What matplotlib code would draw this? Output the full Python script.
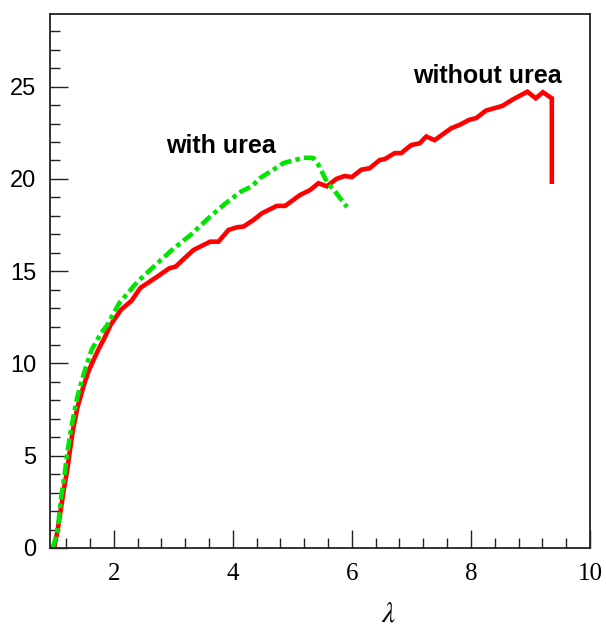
import numpy as np
import matplotlib.pyplot as plt
from matplotlib.ticker import MultipleLocator

# without urea (red, solid)
lam_wo = [1.0, 1.06, 1.11, 1.17, 1.22, 1.25, 1.31, 1.39, 1.5, 1.58, 1.67, 1.75, 1.84,
          1.95, 2.12, 2.3, 2.45, 2.73, 2.93, 3.04, 3.34, 3.62, 3.76, 3.93, 4.07, 4.18,
          4.35, 4.49, 4.74, 4.88, 5.13, 5.30, 5.44, 5.58, 5.74, 5.88, 6.0, 6.16, 6.3,
          6.47, 6.55, 6.72, 6.83, 7.0, 7.14, 7.25, 7.39, 7.67, 7.81, 7.97, 8.09, 8.25,
          8.53, 8.70, 8.95, 9.09, 9.21, 9.36, 9.36]
sig_wo = [0.0, 1.0, 2.06, 3.32, 4.23, 4.95, 6.3, 7.6, 8.85, 9.6, 10.25, 10.8, 11.35,
          12.1, 12.9, 13.4, 14.1, 14.7, 15.15, 15.25, 16.15, 16.6, 16.6, 17.24, 17.38,
          17.42, 17.78, 18.14, 18.54, 18.54, 19.13, 19.4, 19.77, 19.6, 20.0, 20.16, 20.1,
          20.5, 20.58, 21.03, 21.07, 21.4, 21.4, 21.84, 21.93, 22.3, 22.1, 22.75, 22.93,
          23.2, 23.3, 23.7, 23.96, 24.3, 24.73, 24.37, 24.7, 24.37, 19.85]

# with urea (green, dash-dot)
lam_w = [0.97, 1.0, 1.06, 1.11, 1.17, 1.22, 1.28, 1.39, 1.5, 1.63, 1.78, 1.89, 2.09,
         2.4, 2.79, 3.01, 3.29, 3.62, 3.85, 4.13, 4.32, 4.46, 4.68, 4.85, 5.05, 5.19,
         5.35, 5.44, 5.58, 5.74, 5.92]
sig_w = [0.0, 0.25, 0.98, 2.6, 3.86, 5.13, 6.4, 8.2, 9.47, 10.75, 11.6, 12.08, 13.26,
         14.43, 15.6, 16.24, 16.96, 17.96, 18.6, 19.3, 19.6, 20.05, 20.5, 20.86, 21.03,
         21.15, 21.14, 20.76, 19.85, 19.23, 18.47]

fig = plt.figure(figsize=(6.06, 6.27), dpi=100)
ax = fig.add_axes([0.0825, 0.126, 0.891, 0.852])

ax.plot(lam_wo, sig_wo, color='#ff0000', lw=3.3, solid_joinstyle='miter')
ax.plot(lam_w, sig_w, color='#00e600', lw=3.3, linestyle=(0, (2.6, 0.9, 1.0, 0.9)),
        dash_capstyle='butt')

ax.set_xlim(0.93, 10)
ax.set_ylim(0, 28.95)

ax.xaxis.set_major_locator(MultipleLocator(2))
ax.xaxis.set_minor_locator(MultipleLocator(0.4))
ax.yaxis.set_major_locator(MultipleLocator(5))
ax.yaxis.set_minor_locator(MultipleLocator(1))

ax.tick_params(which='both', direction='in', top=False, right=False,
               width=1.0, color='#222222')
ax.tick_params(which='major', length=13)
ax.tick_params(which='minor', length=7)
ax.tick_params(axis='y', which='major', pad=10)
ax.tick_params(axis='x', which='major', pad=11)

for lab in ax.get_yticklabels():
    lab.set_fontfamily('Liberation Sans')
    lab.set_fontsize(17)
for lab in ax.get_xticklabels():
    lab.set_fontfamily('Liberation Serif')
    lab.set_fontsize(18)

for s in ax.spines.values():
    s.set_linewidth(1.3)
    s.set_color('#222222')

ax.text(8.28, 25.6, 'without urea', fontsize=18, fontweight='bold',
        family='Liberation Sans', ha='center', va='center')
ax.text(3.81, 21.8, 'with urea', fontsize=18, fontweight='bold',
        family='Liberation Sans', ha='center', va='center')

ax.text(0.626, -0.122, r'$\lambda$', transform=ax.transAxes, fontsize=21,
        ha='center', va='center', math_fontfamily='stix')

fig.savefig('out.png', dpi=100)
